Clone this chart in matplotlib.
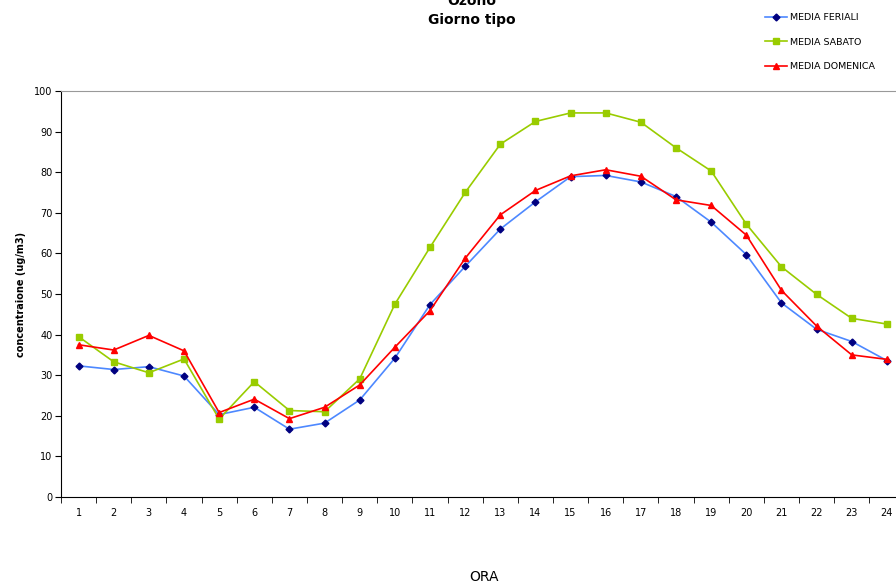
import matplotlib
matplotlib.use("Agg")
import matplotlib.pyplot as plt

# ore del giorno
ore = list(range(1, 25))

media_feriali = [32.3, 31.4, 32.1, 29.8, 20.3, 22.1, 16.7, 18.2, 23.9, 34.2, 47.4, 56.8,
                 66.0, 72.7, 78.9, 79.2, 77.6, 74.0, 67.7, 59.7, 47.8, 41.3, 38.3, 33.6]
media_sabato = [39.5, 33.3, 30.6, 34.0, 19.2, 28.4, 21.3, 21.0, 29.1, 47.5, 61.5, 75.0,
                86.9, 92.5, 94.6, 94.6, 92.3, 86.0, 80.3, 67.2, 56.7, 49.9, 44.0, 42.6]
media_domenica = [37.5, 36.2, 39.8, 36.0, 20.8, 24.1, 19.3, 22.1, 27.6, 36.9, 45.9, 58.8,
                  69.5, 75.5, 79.1, 80.6, 79.0, 73.2, 71.8, 64.5, 50.9, 42.1, 35.0, 33.9]

W, H = 896, 583
fig = plt.figure(figsize=(W / 100, H / 100), dpi=100)
ax = fig.add_axes([61 / W, 1 - 497 / H, (904.5 - 61) / W, (497 - 91) / H])

ax.plot(ore, media_feriali, color="#4d88ff", lw=1.2, marker="D", ms=3.5,
        mfc="#000080", mec="#000080", label="MEDIA FERIALI")
ax.plot(ore, media_sabato, color="#99cc00", lw=1.2, marker="s", ms=4,
        mfc="#99cc00", mec="#99cc00", label="MEDIA SABATO")
ax.plot(ore, media_domenica, color="#ff0000", lw=1.2, marker="^", ms=4.5,
        mfc="#ff0000", mec="#ff0000", label="MEDIA DOMENICA")

ax.set_xlim(0.5, 24.5)
ax.set_ylim(0, 100)
ax.set_yticks(range(0, 101, 10))
ax.set_xticks(ore)
ax.set_xticks([i + 0.5 for i in range(0, 25)], minor=True)
ax.tick_params(axis="x", which="major", length=0, labelsize=7, pad=8)
ax.tick_params(axis="x", which="minor", length=4, direction="out")
ax.tick_params(axis="y", length=4, direction="out", labelsize=7, pad=2)

ax.spines["right"].set_visible(False)
ax.spines["top"].set_color("#999999")
ax.spines["left"].set_color("black")
ax.spines["bottom"].set_color("black")

# il titolo nel riferimento esce in parte dal bordo superiore
fig.text(472 / W, 1 - 1 / H, "Ozono", ha="center", va="center",
         fontsize=10, fontweight="bold")
fig.text(472 / W, 1 - 20 / H, "Giorno tipo", ha="center", va="center",
         fontsize=10, fontweight="bold")
fig.text(21 / W, 1 - 294 / H, "concentraione (ug/m3)", rotation=90,
         ha="center", va="center", fontsize=7, fontweight="bold")
fig.text(484 / W, 1 - 577 / H, "ORA", ha="center", va="center", fontsize=10)

fig.legend(loc="upper left", bbox_to_anchor=(765 / W, 1 - 13.5 / H), frameon=False,
           fontsize=6.8, labelspacing=1.62, handlelength=2.3, handletextpad=0.3,
           borderpad=0, borderaxespad=0)

fig.savefig("out.png", dpi=100)
